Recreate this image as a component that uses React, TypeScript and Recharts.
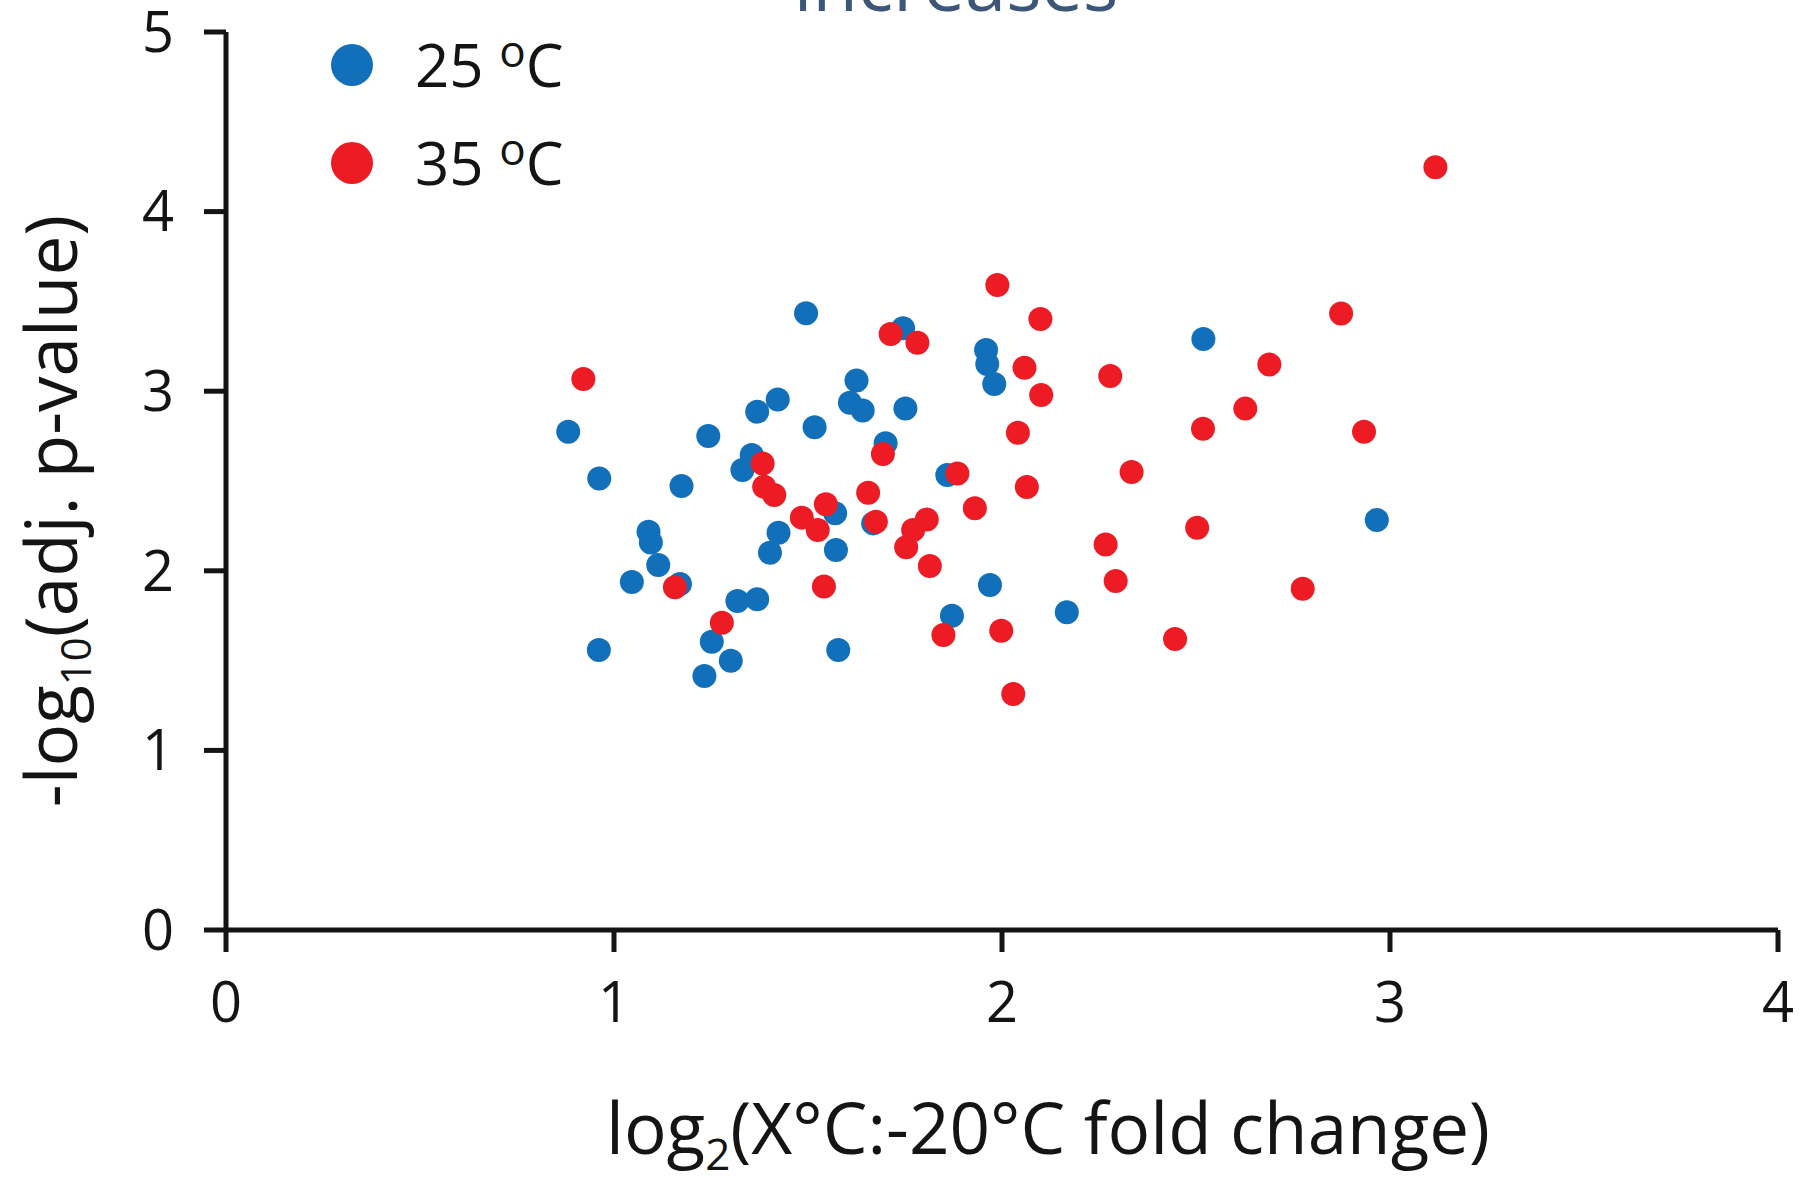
import React from 'react';
import { ScatterChart, Scatter, XAxis, YAxis, Legend, Label, Customized } from 'recharts';

// 25 °C series (blue)
const blueX = [
  0.882, 0.962, 0.961, 1.046, 1.089, 1.095, 1.114, 1.17, 1.174, 1.233, 1.243, 1.252, 1.301, 1.318,
  1.331, 1.355, 1.369, 1.369, 1.402, 1.422, 1.424, 1.495, 1.517, 1.57, 1.572, 1.578, 1.608, 1.625,
  1.641, 1.668, 1.7, 1.745, 1.751, 1.859, 1.871, 1.959, 1.962, 1.969, 1.98, 2.167, 2.519, 2.966,
];
const blueY = [
  2.774, 2.514, 1.559, 1.938, 2.218, 2.157, 2.032, 1.926, 2.472, 1.414, 2.75, 1.605, 1.499, 1.832,
  2.561, 2.645, 2.886, 1.841, 2.101, 2.954, 2.212, 3.434, 2.799, 2.32, 2.116, 1.559, 2.936, 3.059,
  2.892, 2.264, 2.71, 3.35, 2.904, 2.533, 1.75, 3.229, 3.151, 1.921, 3.04, 1.769, 3.291, 2.283,
];

// 35 °C series (red)
const redX = [
  0.921, 1.157, 1.278, 1.383, 1.387, 1.413, 1.484, 1.525, 1.541, 1.546, 1.655, 1.675, 1.693, 1.713,
  1.753, 1.771, 1.782, 1.806, 1.814, 1.849, 1.885, 1.93, 1.988, 1.998, 2.029, 2.041, 2.058, 2.064,
  2.099, 2.101, 2.267, 2.279, 2.293, 2.334, 2.446, 2.503, 2.518, 2.627, 2.689, 2.775, 2.874, 2.933,
  3.117,
];
const redY = [
  3.068, 1.908, 1.711, 2.598, 2.468, 2.422, 2.296, 2.227, 1.912, 2.37, 2.435, 2.273, 2.65, 3.318,
  2.131, 2.227, 3.27, 2.286, 2.027, 1.643, 2.542, 2.348, 3.591, 1.666, 1.314, 2.769, 3.131, 2.467,
  3.402, 2.979, 2.147, 3.085, 1.943, 2.55, 1.62, 2.24, 2.791, 2.903, 3.149, 1.9, 3.433, 2.774,
  4.247,
];

const xTicks = [0, 1, 2, 3, 4];
const yTicks = [0, 1, 2, 3, 4, 5];
const seriesNames = ['25 °C', '35 °C'];
const titleText = 'increases';

const BLUE = '#1170b9';
const RED = '#ed1c24';
const INK = '#141414';
const FONT = '"Open Sans", "Noto Sans", sans-serif';

const toPoints = (xs: number[], ys: number[]) => xs.map((x, i) => ({ x, y: ys[i] }));

const bluePoints = toPoints(blueX, blueY);
const redPoints = toPoints(redX, redY);

const makeDot = (color: string) => (props: any) => (
  <circle cx={props.cx} cy={props.cy} r={12} fill={color} />
);

// "25 °C" -> 25 + raised small o + C
const degreeText = (label: string) => {
  const [pre, post] = label.split('°');
  return (
    <>
      {pre}
      <tspan fontSize={44} dy={-20}>o</tspan>
      <tspan dy={20}>{post}</tspan>
    </>
  );
};

const renderLegend = (props: any) => {
  const payload = props.payload || [];
  return (
    <svg width={320} height={200}>
      {payload.map((entry: any, i: number) => (
        <g key={`leg-${i}`}>
          <circle cx={32} cy={45 + i * 98} r={21} fill={entry.color} />
          <text x={95} y={67 + i * 98} fontSize={60} fontFamily={FONT} fill={INK}>
            {degreeText(String(entry.value))}
          </text>
        </g>
      ))}
    </svg>
  );
};

const XLabel = (props: any) => {
  const vb = props.viewBox || { x: 226, y: 930, width: 1552, height: 259 };
  const cx = vb.x + vb.width / 2 + 46;
  const y = vb.y + 224;
  return (
    <text x={cx} y={y} textAnchor="middle" fontSize={71} fontFamily={FONT} fill={INK}>
      log
      <tspan fontSize={44} dy={16}>2</tspan>
      <tspan dy={-16}>(X°C:-20°C fold change)</tspan>
    </text>
  );
};

const YLabel = (props: any) => {
  const vb = props.viewBox || { x: 0, y: 32, width: 226, height: 898 };
  const x = vb.x + 77;
  const cy = vb.y + vb.height / 2 + 30;
  return (
    <text
      x={x}
      y={cy}
      textAnchor="middle"
      transform={`rotate(-90, ${x}, ${cy})`}
      fontSize={71}
      fontFamily={FONT}
      fill={INK}
    >
      -log
      <tspan fontSize={42} dy={14}>10</tspan>
      <tspan dy={-14}>(adj. p-value)</tspan>
    </text>
  );
};

const Title = () => (
  <text x={956} y={11} textAnchor="middle" fontSize={74} fontFamily={FONT} fill="#3b5676">
    {titleText}
  </text>
);

export default function App() {
  return (
    <div style={{ position: 'absolute', left: 0, top: 0, background: '#fff' }}>
      <ScatterChart
        width={1800}
        height={1189}
        margin={{ top: 32, right: 22, bottom: 0, left: 0 }}
      >
        <XAxis
          type="number"
          dataKey="x"
          domain={[0, 4]}
          ticks={xTicks}
          interval={0}
          height={259}
          tickSize={22}
          tickMargin={30}
          axisLine={{ stroke: INK, strokeWidth: 5 }}
          tickLine={{ stroke: INK, strokeWidth: 5 }}
          tick={{ fontSize: 56, fill: INK, fontFamily: FONT }}
        >
          <Label content={XLabel} />
        </XAxis>
        <YAxis
          type="number"
          dataKey="y"
          domain={[0, 5]}
          ticks={yTicks}
          interval={0}
          width={226}
          tickSize={22}
          tickMargin={30}
          axisLine={{ stroke: INK, strokeWidth: 5 }}
          tickLine={{ stroke: INK, strokeWidth: 5 }}
          tick={{ fontSize: 56, fill: INK, fontFamily: FONT }}
        >
          <Label content={YLabel} />
        </YAxis>
        <Legend
          layout="vertical"
          align="center"
          verticalAlign="middle"
          wrapperStyle={{ left: 320, top: 20, width: 320, height: 200 }}
          content={renderLegend}
        />
        <Scatter
          name={seriesNames[0]}
          data={bluePoints}
          fill={BLUE}
          shape={makeDot(BLUE)}
          isAnimationActive={false}
        />
        <Scatter
          name={seriesNames[1]}
          data={redPoints}
          fill={RED}
          shape={makeDot(RED)}
          isAnimationActive={false}
        />
        <Customized component={Title} />
      </ScatterChart>
    </div>
  );
}
